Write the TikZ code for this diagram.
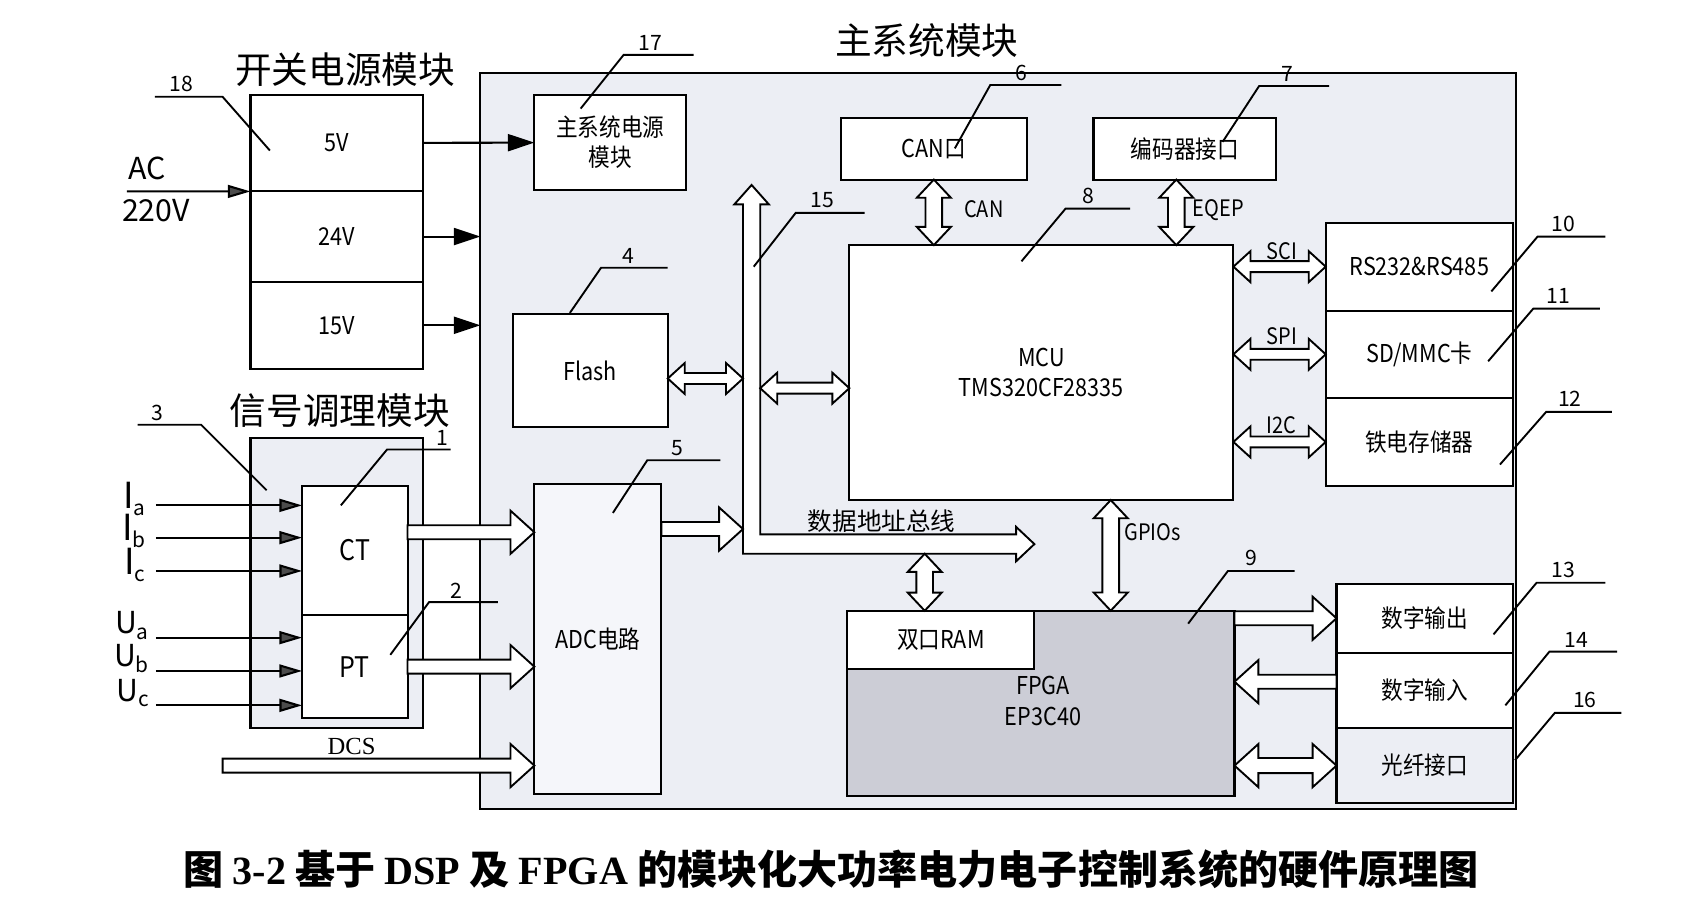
\documentclass[tikz,border=0pt]{standalone}
\usepackage{fontspec}
\setmainfont{Noto Sans CJK SC}
\newfontfamily\nar{Noto Sans CJK SC}[FakeStretch=0.88]
\newfontfamily\capserif{Liberation Serif}
\usetikzlibrary{arrows.meta,calc,decorations.pathreplacing}
\definecolor{mainbg}{RGB}{236,238,244}
\definecolor{fpgabg}{RGB}{204,205,214}
\newcommand{\lowsub}[1]{\raisebox{-0.35ex}{\fontsize{5.5}{6}\selectfont #1}}
\newcommand{\blockarrow}[4]{%
  \path (\tikzinputsegmentfirst) coordinate (ba0) (\tikzinputsegmentlast) coordinate (ba1);
  \path ($(ba1)!#3pt!(ba0)$) coordinate (bah) ($(ba0)!#3pt!(ba1)$) coordinate (bat);
  \ifnum#4=0
    \draw[arrline] ($(ba0)!#1pt!90:(ba1)$) -- ($(bah)!#1pt!90:(ba1)$) -- ($(bah)!#2pt!90:(ba1)$) -- (ba1)
      -- ($(bah)!#2pt!-90:(ba1)$) -- ($(bah)!#1pt!-90:(ba1)$) -- ($(ba0)!#1pt!-90:(ba1)$) -- cycle;
  \else
    \draw[arrline] ($(bat)!#1pt!90:(ba1)$) -- ($(bah)!#1pt!90:(ba1)$) -- ($(bah)!#2pt!90:(ba1)$) -- (ba1)
      -- ($(bah)!#2pt!-90:(ba1)$) -- ($(bah)!#1pt!-90:(ba1)$) -- ($(bat)!#1pt!-90:(ba1)$)
      -- ($(bat)!#2pt!-90:(ba1)$) -- (ba0) -- ($(bat)!#2pt!90:(ba1)$) -- cycle;
  \fi
}

\begin{document}
\begin{tikzpicture}[x=0.01cm,y=-0.01cm,
  box/.style={draw, line width=0.55pt, fill=white, inner sep=0pt, outer sep=0pt, align=center, font=\nar\fontsize{6.5}{8}\selectfont},
  wh/.style 2 args={minimum width=#1cm, minimum height=#2cm},
  title/.style={font=\fontsize{9.7}{11}\selectfont, inner sep=0pt},
  num/.style={font=\fontsize{5.6}{6}\selectfont, inner sep=0pt},
  sig/.style={font=\nar\fontsize{6}{7}\selectfont, inner sep=0pt},
  lead/.style={line width=0.5pt},
  powarr/.style={line width=0.55pt, -{Triangle[length=7pt,width=4.5pt]}},
  inarr/.style={line width=0.55pt, -{Triangle[length=6pt,width=3.4pt,fill=black!70]}},
  arrline/.style={draw, line width=0.5pt, fill=white},
  fatarrow/.style={decorate, decoration={show path construction, lineto code={\blockarrow{1.85}{5.7}{6.3}{0}}}},
  fatboth/.style={decorate, decoration={show path construction, lineto code={\blockarrow{2.0}{5.7}{6.3}{1}}}},
  vboth/.style={decorate, decoration={show path construction, lineto code={\blockarrow{2.2}{4.5}{4.8}{1}}}},
  hboth/.style={decorate, decoration={show path construction, lineto code={\blockarrow{1.45}{4.1}{4.5}{1}}}}]
\useasboundingbox (0,0) rectangle (1568,857);

\node[title] (tpow) at (321,65) {开关电源模块};
\node[title] (tsig) at (316,382) {信号调理模块};
\node[title] (tmain) at (862,38) {主系统模块};

\node[box, wh={1.6}{0.9}] (v5) at (313,133) {5V};
\node[box, wh={1.6}{0.84}] (v24) at (313,220) {24V};
\node[box, wh={1.6}{0.81}] (v15) at (313,302.5) {15V};
\node[font=\fontsize{8}{9}\selectfont] (tac) at (137,157) {AC};
\node[font=\fontsize{8}{9}\selectfont] (t220) at (145,196) {220V};
\coordinate (acin) at (118,178);
\draw[inarr] (acin) -- (v5.south west);

\node[box, fill=mainbg, wh={9.63}{6.84}] (main) at (928.5,410) {};
\node[box, wh={1.41}{0.89}] (spw) at (567.5,132.5) {主系统电源\\模块};
\draw[powarr] (v5) -- (spw);
\draw[powarr] (v24) -- (v24 -| main.west);
\draw[powarr] (v15) -- (v15 -| main.west);

\node[box, fill=mainbg, wh={1.6}{2.7}] (sigbox) at (313,542) {};
\node[box, wh={0.98}{1.2}, font=\nar\fontsize{7.5}{8}\selectfont] (ct) at (330,512) {CT};
\node[box, wh={0.98}{0.96}, font=\nar\fontsize{7.5}{8}\selectfont] (pt) at (330,620) {PT};

\coordinate (ia) at (145,470);
\coordinate (ib) at (145,500);
\coordinate (ic) at (145,531);
\coordinate (ua) at (145,593);
\coordinate (ub) at (145,624);
\coordinate (uc) at (145,656);
\draw[inarr] (ia) -- (ia -| ct.west);
\draw[inarr] (ib) -- (ib -| ct.west);
\draw[inarr] (ic) -- (ic -| ct.west);
\draw[inarr] (ua) -- (ua -| pt.west);
\draw[inarr] (ub) -- (ub -| pt.west);
\draw[inarr] (uc) -- (uc -| pt.west);
\node[anchor=base east, inner sep=0pt, font=\fontsize{9.5}{10}\selectfont] (lia) at (136,473) {I\lowsub{a}};
\node[anchor=base east, inner sep=0pt, font=\fontsize{9.5}{10}\selectfont] (lib) at (136,503) {I\lowsub{b}};
\node[anchor=base east, inner sep=0pt, font=\fontsize{9.5}{10}\selectfont] (lic) at (136,534) {I\lowsub{c}};
\node[anchor=base east, inner sep=0pt, font=\fontsize{8}{9}\selectfont] (lua) at (139,589) {U\lowsub{a}};
\node[anchor=base east, inner sep=0pt, font=\fontsize{8}{9}\selectfont] (lub) at (139,620) {U\lowsub{b}};
\node[anchor=base east, inner sep=0pt, font=\fontsize{8}{9}\selectfont] (luc) at (139,652) {U\lowsub{c}};

\node[box, fill=mainbg!50, wh={1.18}{2.88}] (adc) at (556,594) {ADC电路};
\node[box, wh={1.44}{1.05}] (flash) at (549,344.5) {Flash};
\coordinate (ctout) at ([yshift=0.17cm]ct.east);
\path[fatarrow] (ctout) -- (ctout -| adc.west);
\path[fatarrow] (pt.east) -- (pt.east -| adc.west);
\coordinate (dcs) at (207,712);
\path[fatarrow] (dcs) -- (dcs -| adc.west);
\node[font=\capserif\fontsize{6.5}{7}\selectfont, inner sep=0pt] (tdcs) at (327,694) {DCS};

\draw[arrline] (691,515) -- (691,190) -- (683,190) -- (699,172) -- (715,190) -- (707,190) -- (707,497)
  -- (945,497) -- (945,490) -- (962,506) -- (945,522) -- (945,515) -- cycle;
\node[font=\fontsize{6.5}{7}\selectfont, inner sep=0pt] (tbus) at (820,485) {数据地址总线};
\coordinate (busl) at (691,352);
\coordinate (busr) at (707,361);
\coordinate (busin) at (691,492);
\coordinate (busb) at (860,515);

\node[box, wh={3.57}{2.37}] (mcu) at (968.5,346.5) {MCU\\TMS320CF28335};
\node[box, wh={1.73}{0.57}] (can) at (868.5,138.5) {CAN口};
\node[box, wh={1.70}{0.57}] (enc) at (1102,138.5) {编码器接口};
\node[box, fill=fpgabg, wh={3.6}{1.72}] (fpga) at (968,654) {};
\node[box, wh={1.74}{0.54}] (ram) at (875,595) {双口RAM};
\node[align=center, font=\nar\fontsize{6.5}{8}\selectfont] (tfpga) at (970,652) {FPGA\\EP3C40};

\path[hboth] (flash.east |- busl) -- (busl);
\path[fatarrow] (adc.east |- busin) -- (busin);
\path[hboth] (busr) -- (busr -| mcu.west);
\path[vboth] (busb) -- (busb |- ram.north);
\path[vboth] (can) -- (can |- mcu.north);
\coordinate (eq) at (1094,200);
\path[vboth] (eq |- enc.south) -- (eq |- mcu.north);
\coordinate (gp) at (1033,500);
\path[vboth] (gp |- mcu.south) -- (gp |- fpga.north);
\node[sig] (lcan) at (915,195) {CAN};
\node[sig] (leqep) at (1133,195) {EQEP};
\node[sig] (lgpio) at (1072,495) {GPIOs};

\node[box, wh={1.74}{0.82}] (rs) at (1320,248) {RS232\&RS485};
\node[box, wh={1.74}{0.81}] (sd) at (1320,329.5) {SD/MMC卡};
\node[box, wh={1.74}{0.82}] (fe) at (1320,411) {铁电存储器};
\path[hboth] (mcu.east |- rs) -- (rs.west);
\path[hboth] (mcu.east |- sd) -- (sd.west);
\path[hboth] (mcu.east |- fe) -- (fe.west);
\node[sig] (lsci) at (1192,234) {SCI};
\node[sig] (lspi) at (1192,313) {SPI};
\node[sig] (li2c) at (1192,395) {I2C};

\node[box, wh={1.64}{0.64}] (dout) at (1325,575) {数字输出};
\node[box, wh={1.64}{0.70}] (din) at (1325,642) {数字输入};
\node[box, fill=mainbg, wh={1.64}{0.70}] (fib) at (1325,712) {光纤接口};
\path[fatarrow] (fpga.east |- dout) -- (dout.west);
\coordinate (dinw) at ([yshift=0.08cm]din.west);
\path[fatarrow] (dinw) -- (dinw -| fpga.east);
\path[fatboth] (fpga.east |- fib) -- (fib.west);

\draw[lead] (251,140) -- (207,90) -- (144,90);
\node[num] (n18) at (169,78) {18};
\draw[lead] (540,101) -- (580,51) -- (645,51);
\node[num] (n17) at (605,40) {17};
\draw[lead] (530,291) -- (559,249) -- (621,249);
\node[num] (n4) at (584,238) {4};
\draw[lead] (248,456) -- (187,395) -- (128,395);
\node[num] (n3) at (146,384) {3};
\draw[lead] (317,470) -- (360,418) -- (419,418);
\node[num] (n1) at (411,407) {1};
\draw[lead] (363,609) -- (399,560) -- (463,560);
\node[num] (n2) at (424,549) {2};
\draw[lead] (570,477) -- (602,428) -- (670,428);
\node[num] (n5) at (630,417) {5};
\draw[lead] (701,248) -- (740,198) -- (804,198);
\node[num] (n15) at (765,186) {15};
\draw[lead] (888,138) -- (921,79) -- (987,79);
\node[num] (n6) at (950,68) {6};
\draw[lead] (1137,132) -- (1171,80) -- (1236,80);
\node[num] (n7) at (1197,69) {7};
\draw[lead] (950,243) -- (991,194) -- (1051,194);
\node[num] (n8) at (1012,182) {8};
\draw[lead] (1105,580) -- (1142,531) -- (1204,531);
\node[num] (n9) at (1164,519) {9};
\draw[lead] (1387,271) -- (1430,220) -- (1493,220);
\node[num] (n10) at (1454,208) {10};
\draw[lead] (1384,336) -- (1426,287) -- (1488,287);
\node[num] (n11) at (1449,275) {11};
\draw[lead] (1395,432) -- (1438,383) -- (1499,383);
\node[num] (n12) at (1460,371) {12};
\draw[lead] (1389,590) -- (1429,542) -- (1493,542);
\node[num] (n13) at (1454,530) {13};
\draw[lead] (1400,656) -- (1441,606) -- (1504,606);
\node[num] (n14) at (1466,595) {14};
\draw[lead] (1409,707) -- (1446,663) -- (1508,663);
\node[num] (n16) at (1474,651) {16};

\node[font=\bfseries\fontsize{10.6}{12}\selectfont, inner sep=0pt] (cap) at (773,808) {图 {\capserif 3-2} 基于 {\capserif DSP} 及 {\capserif FPGA} 的模块化大功率电力电子控制系统的硬件原理图};
\end{tikzpicture}
\end{document}
